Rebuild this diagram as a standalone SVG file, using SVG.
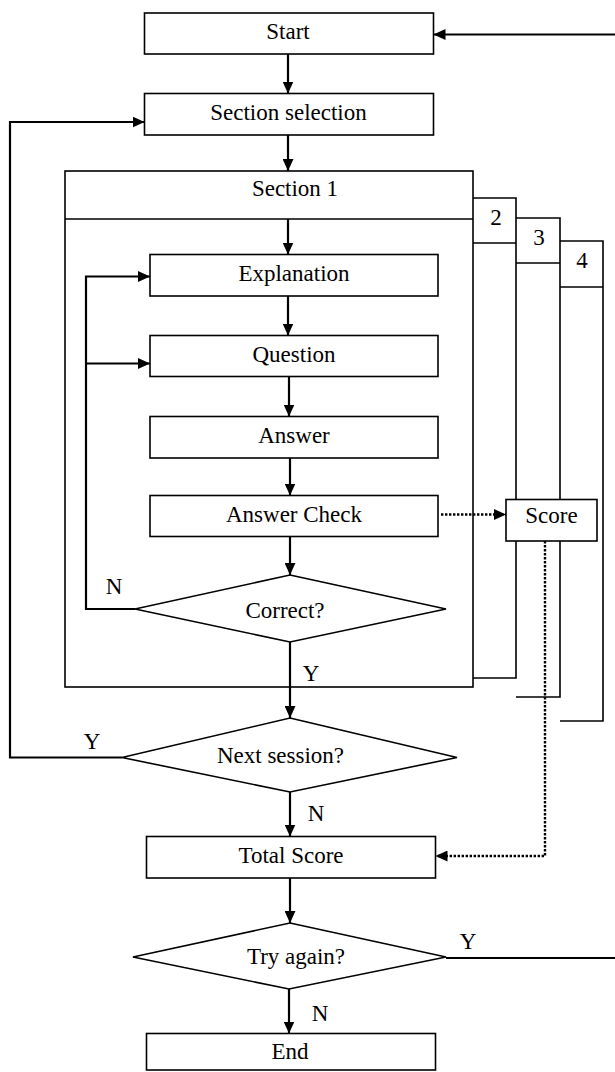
<svg xmlns="http://www.w3.org/2000/svg" width="615" height="1072" viewBox="0 0 615 1072">
<style>
.box{fill:#fff;stroke:#000;stroke-width:1.6}
.pg{fill:none;stroke:#000;stroke-width:1.6}
.c{fill:none;stroke:#000;stroke-width:2.2}
.d{fill:none;stroke:#000;stroke-width:2.4;stroke-dasharray:2.4 1.6}
text{font-family:"Liberation Serif","Times New Roman",serif;font-size:23px;fill:#000;text-anchor:middle}
</style>
<defs>
<marker id="ah" markerUnits="userSpaceOnUse" markerWidth="13" markerHeight="11" refX="12" refY="5.5" orient="auto">
<path d="M0,0 L12,5.5 L0,11 z" fill="#000"/>
</marker>
</defs>
<g id="pages">
<path class="pg" d="M473,198 H516 V678 H473 M473,243 H516"/>
<path class="pg" d="M516,218 H560 V697 H516 M516,263 H560"/>
<path class="pg" d="M560,241 H603 V721 H560 M560,287 H603"/>
<text x="496" y="225">2</text>
<text x="539" y="245">3</text>
<text x="582" y="268">4</text>
</g>
<g id="section1">
<rect class="pg" x="65" y="171" width="408" height="516"/>
<line class="pg" x1="65" y1="219" x2="473" y2="219"/>
<text x="295" y="196">Section 1</text>
</g>
<g id="start"><rect class="box" x="144.5" y="13" width="289" height="41"/><text x="288" y="38.5">Start</text></g>
<g id="sectionSelection"><rect class="box" x="144.5" y="93.5" width="289" height="41.5"/><text x="288.5" y="119.5">Section selection</text></g>
<g id="explanation"><rect class="box" x="150" y="254.5" width="288" height="41.5"/><text x="294" y="280.5">Explanation</text></g>
<g id="question"><rect class="box" x="150" y="335.5" width="288" height="41"/><text x="294" y="361.5">Question</text></g>
<g id="answer"><rect class="box" x="150" y="416.5" width="288" height="41.5"/><text x="294" y="443">Answer</text></g>
<g id="answerCheck"><rect class="box" x="150" y="495.5" width="288" height="41"/><text x="294" y="521.5">Answer Check</text></g>
<g id="score"><rect class="box" x="506" y="499.5" width="91" height="41.5"/><text x="551.5" y="523">Score</text></g>
<g id="correct"><polygon class="box" points="290,575 446,609 290,642 135,609"/><text x="285" y="617.5">Correct?</text></g>
<g id="nextSession"><polygon class="box" points="290,718 457,757.5 290,792 122,757.5"/><text x="280.5" y="763">Next session?</text></g>
<g id="totalScore"><rect class="box" x="146.5" y="836.5" width="289" height="41.5"/><text x="291" y="862.5">Total Score</text></g>
<g id="tryAgain"><polygon class="box" points="290,923 446,957 289,989 133,957"/><text x="296" y="964">Try again?</text></g>
<g id="end"><rect class="box" x="146.5" y="1033.5" width="289" height="36.5"/><text x="290" y="1059">End</text></g>
<g id="connectors">
<path class="c" d="M615,34.5 H433.5" marker-end="url(#ah)"/>
<path class="c" d="M288,54 V93.5" marker-end="url(#ah)"/>
<path class="c" d="M288,135 V171" marker-end="url(#ah)"/>
<path class="c" d="M288,219 V254.5" marker-end="url(#ah)"/>
<path class="c" d="M288,296 V335.5" marker-end="url(#ah)"/>
<path class="c" d="M289,376.5 V416.5" marker-end="url(#ah)"/>
<path class="c" d="M290,458 V495.5" marker-end="url(#ah)"/>
<path class="c" d="M290,536.5 V575" marker-end="url(#ah)"/>
<path class="c" d="M135,609 H86 V276.5 H150" marker-end="url(#ah)"/>
<path class="c" d="M86,363.5 H150" marker-end="url(#ah)"/>
<path class="c" d="M290,642 V718" marker-end="url(#ah)"/>
<path class="c" d="M122,757.5 H10 V122 H144.5" marker-end="url(#ah)"/>
<path class="c" d="M290,792 V836.5" marker-end="url(#ah)"/>
<path class="c" d="M290,878 V923" marker-end="url(#ah)"/>
<path class="c" d="M289,989 V1033.5" marker-end="url(#ah)"/>
<path class="c" d="M446,958 H615"/>
<path class="d" d="M441,514.5 H506" marker-end="url(#ah)"/>
<path class="d" d="M545,541 V856 H435.5" marker-end="url(#ah)"/>
<text x="114" y="594">N</text>
<text x="311" y="680.5">Y</text>
<text x="92" y="749">Y</text>
<text x="316" y="820.5">N</text>
<text x="468" y="949">Y</text>
<text x="320" y="1021">N</text>
</g>
</svg>
